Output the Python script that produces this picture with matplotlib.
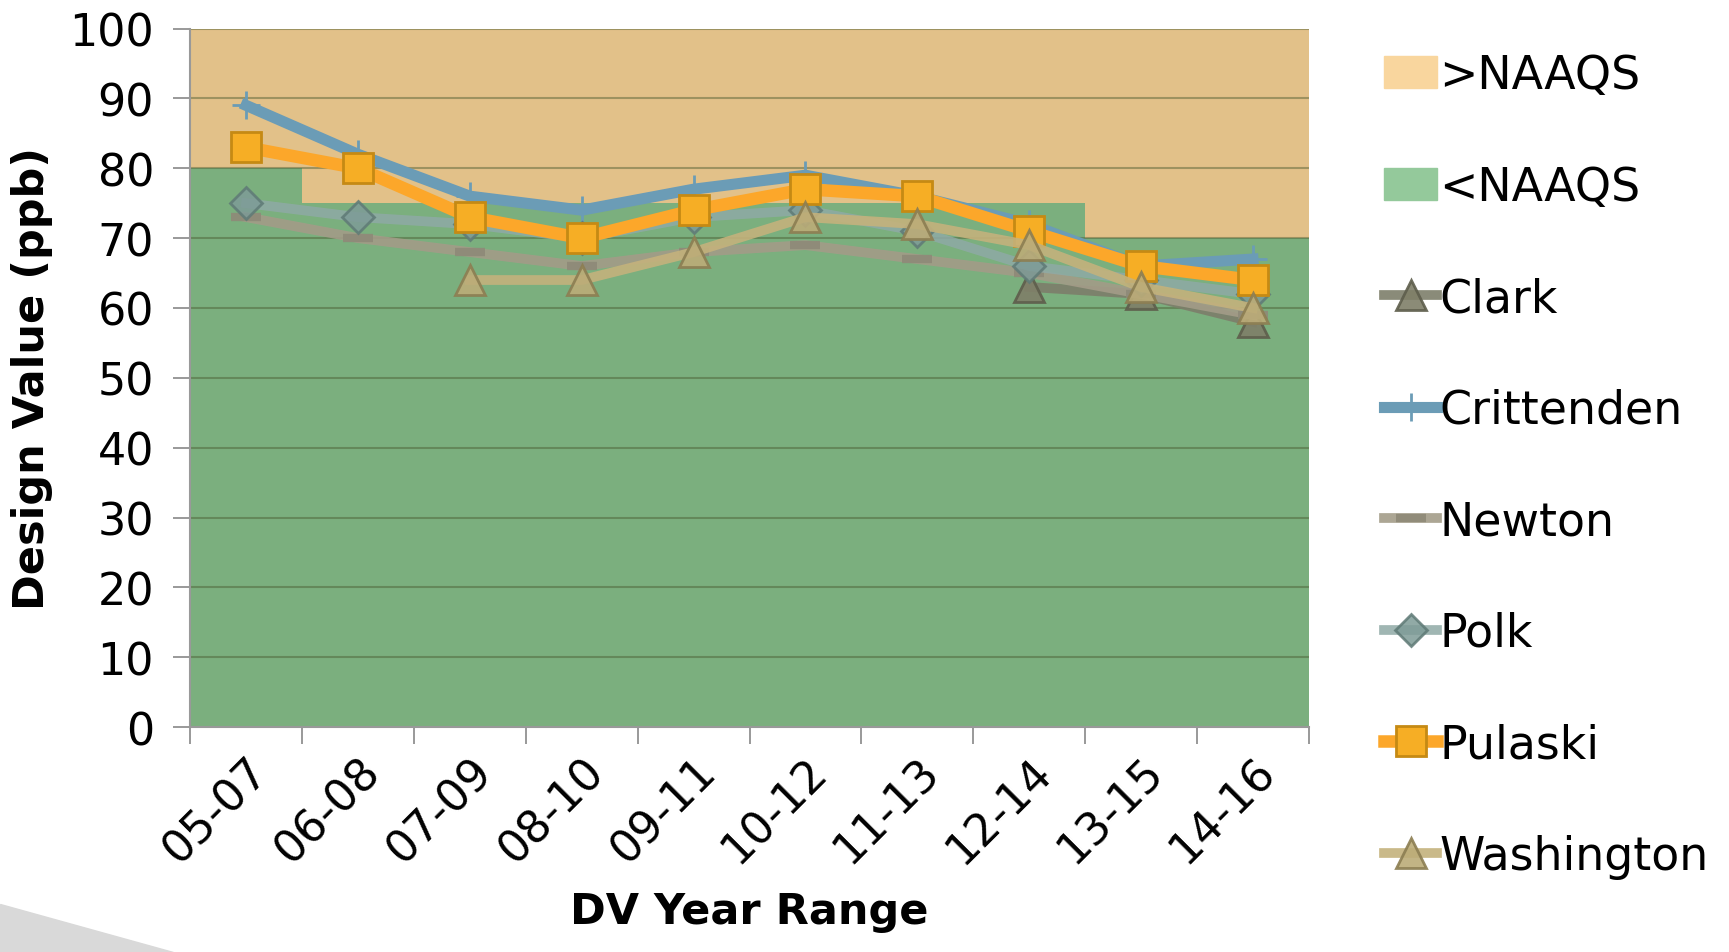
import numpy as np
import matplotlib.pyplot as plt
from matplotlib.patches import Polygon, Patch

ranges = ['05-07', '06-08', '07-09', '08-10', '09-11', '10-12', '11-13', '12-14', '13-15', '14-16']
naaqs = [80, 75, 75, 75, 75, 75, 75, 75, 70, 70]

nan = np.nan
clark = [nan, nan, nan, nan, nan, nan, nan, 63, 62, 58]
crittenden = [89, 82, 76, 74, 77, 79, 76, 72, 66, 67]
newton = [73, 70, 68, 66, 68, 69, 67, 65, 62, 59]
polk = [75, 73, 72, 70, 73, 74, 71, 66, 64, 62]
pulaski = [83, 80, 73, 70, 74, 77, 76, 71, 66, 64]
washington = [nan, nan, 64, 64, 68, 73, 72, 69, 63, 60]

plt.rcParams['font.family'] = ['DejaVu Sans']

fig = plt.figure(figsize=(17.29, 9.53), dpi=100)
ax = fig.add_axes([0.110, 0.236, 0.647, 0.733])

x = np.arange(len(ranges))
over = [100 - v for v in naaqs]
ax.bar(x, over, bottom=naaqs, width=1.0, color='#E2C189', zorder=1)
ax.bar(x, naaqs, width=1.0, color='#7BAF7E', zorder=1)

# gridlines show through the fills in the original
for v in range(10, 101, 10):
    ax.axhline(v, color='#4a5a30', alpha=0.45, lw=1.5, zorder=1.5)

ax.plot(x, clark, color='#7D7E6A', lw=7, alpha=0.9, marker='^', ms=21,
        mfc='#7F7F68', mec='#5E5E4C', mew=2, label='Clark', zorder=3)
ax.plot(x, crittenden, color='#6B9CB6', lw=8, marker='+', ms=20,
        mec='#6B9CB6', mew=2, label='Crittenden', zorder=3.2)
ax.plot(x, newton, color='#A39C88', lw=7, alpha=0.9, marker='_', ms=22,
        mec='#8E8A78', mew=6, label='Newton', zorder=3.1)
ax.plot(x, polk, color='#8FAAA6', lw=7, alpha=0.85, marker='D', ms=16,
        mfc='#7E9B97', mec='#5F7A76', mew=2, label='Polk', zorder=3.3)
ax.plot(x, pulaski, color='#FCA72A', lw=9, marker='s', ms=22,
        mfc='#F6AE25', mec='#C58A14', mew=2, label='Pulaski', zorder=4)
ax.plot(x, washington, color='#C4B27C', lw=7, alpha=0.9, marker='^', ms=21,
        mfc='#BCAC78', mec='#8C7E52', mew=2, label='Washington', zorder=4.2)

ax.set_xlim(-0.5, len(ranges) - 0.5)
ax.set_ylim(0, 100)
ax.set_yticks(range(0, 101, 10))
ax.set_xticks(x)
ax.set_xticklabels(ranges, rotation=45, ha='right', va='top', rotation_mode='anchor')
ax.set_xticks(np.arange(-0.5, len(ranges)), minor=True)
ax.tick_params(axis='x', which='major', length=0, pad=16, labelsize=32)
ax.tick_params(axis='x', which='minor', length=12, color='#888888', width=1.2)
ax.tick_params(axis='y', length=12, color='#888888', width=1.2, labelsize=32, pad=14)
for s in ['top', 'right']:
    ax.spines[s].set_visible(False)
for s in ['left', 'bottom']:
    ax.spines[s].set_color('#999999')
    ax.spines[s].set_linewidth(1.5)

ax.set_ylabel('Design Value (ppb)', fontsize=31, fontweight='bold', labelpad=12)
ax.set_xlabel('DV Year Range', fontsize=31, fontweight='bold', labelpad=14)

handles, labels = ax.get_legend_handles_labels()
handles = [Patch(color='#F9D69E'), Patch(color='#94C99B')] + handles
labels = ['>NAAQS', '<NAAQS'] + labels
fig.legend(handles, labels, loc='center left',
           bbox_to_anchor=(0.79, 0.51), frameon=False,
           fontsize=33, handlelength=1.15, handletextpad=0.05, labelspacing=1.45,
           borderaxespad=0)

# slide decoration in bottom-left corner
fig.patches.append(Polygon([(0, 0.05), (0, 0), (0.1, 0)], closed=True,
                           transform=fig.transFigure, color='#D9D9D9', zorder=0))

fig.savefig('out.png', dpi=100)
